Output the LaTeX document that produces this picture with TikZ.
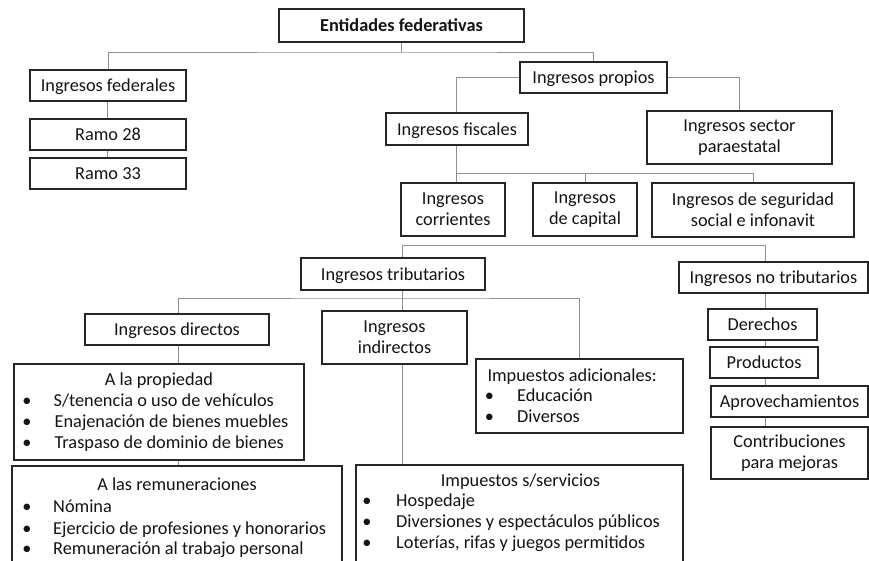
\documentclass[tikz,border=0pt]{standalone}
\usepackage{fontspec}
\setmainfont{Carlito}
\definecolor{bord}{HTML}{262626}
\definecolor{conn}{HTML}{8F8F8F}
\definecolor{txt}{HTML}{141414}
\begin{document}
\begin{tikzpicture}[x=1pt,y=-1pt,
  bx/.style={draw=bord, line width=1.3pt, inner sep=0pt, align=center, text=txt,
             font=\fontsize{18.3}{21}\selectfont},
  one/.style={text height=12.8pt, text depth=0pt},
  ln/.style={draw=conn, line width=1pt},
  lt/.style={anchor=base west, inner sep=0pt, text=txt, font=\fontsize{18.3}{21}\selectfont},
  lc/.style={anchor=base, inner sep=0pt, text=txt, font=\fontsize{18.3}{21}\selectfont}]
\useasboundingbox (0,0) rectangle (869,560);
\clip (0,0) rectangle (869,560);
\fill[white] (0,0) rectangle (869,560);

% boxes
\node[bx, one, minimum width=245pt, minimum height=33pt] (ent) at (401.5,25.5) {\bfseries Entidades federativas};
\node[bx, one, minimum width=156pt, minimum height=31pt] (fed) at (108,85.5) {Ingresos federales};
\node[bx, one, minimum width=156pt, minimum height=31pt] (r28) at (108,134.5) {Ramo 28};
\node[bx, one, minimum width=156pt, minimum height=31pt] (r33) at (108,173.5) {Ramo 33};
\node[bx, one, minimum width=147pt, minimum height=31pt] (prop) at (593.5,77.5) {Ingresos propios};
\node[bx, one, minimum width=142pt, minimum height=32pt] (fis) at (457,129) {Ingresos fiscales};
\node[bx, minimum width=185pt, minimum height=53pt] (sec) at (739.5,137.5) {Ingresos sector\\paraestatal};
\node[bx, minimum width=104pt, minimum height=53pt] (cor) at (453,209.5) {Ingresos\\corrientes};
\node[bx, minimum width=104pt, minimum height=53pt] (cap) at (585,209.5) {Ingresos\\de capital};
\node[bx, minimum width=202pt, minimum height=54pt] (seg) at (753,210) {Ingresos de seguridad\\social e infonavit};
\node[bx, one, minimum width=184pt, minimum height=32pt] (trib) at (393,274) {Ingresos tributarios};
\node[bx, one, minimum width=189pt, minimum height=31pt] (notr) at (773.5,277.5) {Ingresos no tributarios};
\node[bx, one, minimum width=184pt, minimum height=31pt] (dir) at (177,329.5) {Ingresos directos};
\node[bx, minimum width=145pt, minimum height=53pt] (ind) at (394.5,337.5) {Ingresos\\indirectos};
\node[bx, minimum width=207pt, minimum height=74pt] (adic) at (579.5,396) {};
\node[bx, one, minimum width=109pt, minimum height=31pt] (der) at (762.5,324.5) {Derechos};
\node[bx, one, minimum width=108pt, minimum height=31pt] (prod) at (764,362.5) {Productos};
\node[bx, one, minimum width=157pt, minimum height=31pt] (apro) at (789.5,401.5) {Aprovechamientos};
\node[bx, minimum width=157pt, minimum height=52pt] (contr) at (789.5,453) {Contribuciones\\para mejoras};
\node[bx, minimum width=290pt, minimum height=96pt] (propb) at (159,412) {};
\node[bx, minimum width=330pt, minimum height=134pt] (remb) at (177,533) {};
\node[bx, minimum width=327pt, minimum height=135pt] (serv) at (519.5,532.5) {};

% list texts: A la propiedad
\node[lc] (pr0) at (159,385.7) {A la propiedad};
\node[lc] (prb1) at (27,406.7) {•};
\node[lt] (pr1) at (53.5,406.7) {S/tenencia o uso de vehículos};
\node[lc] (prb2) at (27,427.3) {•};
\node[lt] (pr2) at (54.5,427.3) {Enajenación de bienes muebles};
\node[lc] (prb3) at (27,448) {•};
\node[lt] (pr3) at (54.5,448) {Traspaso de dominio de bienes};

% A las remuneraciones
\node[lc] (re0) at (177,490.7) {A las remuneraciones};
\node[lc] (reb1) at (27,512.7) {•};
\node[lt] (re1) at (53,512.7) {Nómina};
\node[lc] (reb2) at (27,534) {•};
\node[lt] (re2) at (53,534) {Ejercicio de profesiones y honorarios};
\node[lc] (reb3) at (27,554) {•};
\node[lt] (re3) at (53,554) {Remuneración al trabajo personal};

% Impuestos s/servicios
\node[lc] (se0) at (520.5,486.7) {Impuestos s/servicios};
\node[lc] (seb1) at (367,506.7) {•};
\node[lt] (se1) at (396,506.7) {Hospedaje};
\node[lc] (seb2) at (367,527.7) {•};
\node[lt] (se2) at (396,527.7) {Diversiones y espectáculos públicos};
\node[lc] (seb3) at (367,548) {•};
\node[lt] (se3) at (396,548) {Loterías, rifas y juegos permitidos};

% Impuestos adicionales
\node[lt] (ad0) at (487.3,381.7) {Impuestos adicionales:};
\node[lc] (adb1) at (489.5,401.7) {•};
\node[lt] (ad1) at (517,401.7) {Educación};
\node[lc] (adb2) at (489.5,422.3) {•};
\node[lt] (ad2) at (517,422.3) {Diversos};

% connector helper coordinates
\coordinate (b1) at (403,52);
\coordinate (b3) at (456,173);
\coordinate (b4) at (402,245);
\coordinate (b5) at (402,298);
\coordinate (c765) at (765,0);
\coordinate (c178) at (178,0);
\coordinate (c456) at (456,0);
\coordinate (c107) at (107,0);

% connectors
\draw[ln] (ent.south) -- (ent.south |- b1);
\draw[ln] (fed.north) |- (b1) -| (prop.north);
\draw[ln] (c107 |- fed.south) -- (c107 |- r28.north);
\draw[ln] (c107 |- r28.south) -- (c107 |- r33.north);
\draw[ln] (prop.west) -| (c456 |- fis.north);
\draw[ln] (prop.east) -| (sec.north);
\draw[ln] (c456 |- fis.south) -- (c456 |- cor.north);
\draw[ln] (b3) -| (cap.north);
\draw[ln] (b3) -| (seg.north);
\draw[ln] (b4 |- trib.north) -- (b4) -- (b4 -| c765) -- (c765 |- notr.north);
\draw[ln] (b5 |- trib.south) -- (b5 |- ind.north);
\draw[ln] (c178 |- dir.north) |- (b5) -| (adic.north);
\draw[ln] (c178 |- dir.south) -- (c178 |- propb.north);
\draw[ln] (c178 |- propb.south) -- (c178 |- remb.north);
\draw[ln] (b5 |- ind.south) -- (b5 |- serv.north);
\draw[ln] (c765 |- notr.south) -- (c765 |- der.north);
\draw[ln] (c765 |- der.south) -- (c765 |- prod.north);
\draw[ln] (c765 |- prod.south) -- (c765 |- apro.north);
\draw[ln] (c765 |- apro.south) -- (c765 |- contr.north);
\end{tikzpicture}
\end{document}
